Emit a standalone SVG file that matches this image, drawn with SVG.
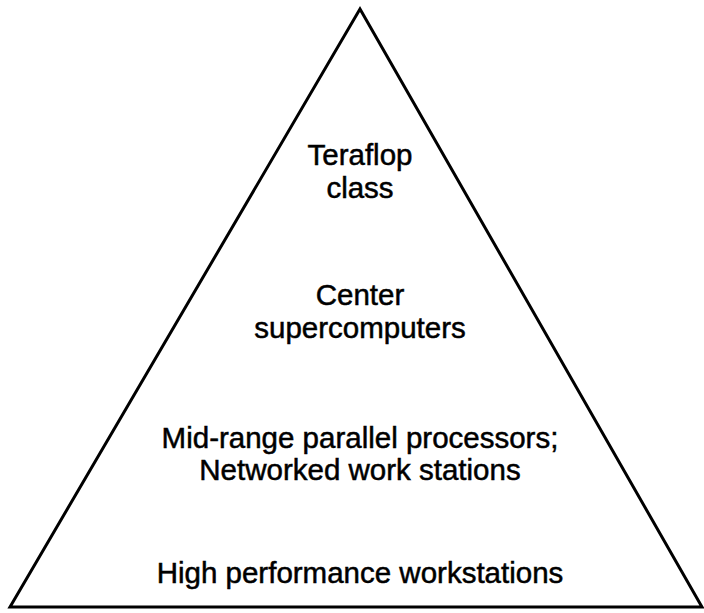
<svg xmlns="http://www.w3.org/2000/svg" width="704" height="613" viewBox="0 0 704 613">
<style>
.lbl{font-family:"Liberation Sans",Arial,sans-serif;font-size:29.5px;fill:#000;stroke:#000;stroke-width:0.5;text-anchor:middle}
.edge{fill:none;stroke:#000;stroke-width:3;stroke-linejoin:miter}
</style>
<rect width="704" height="613" fill="#fff"/>
<g id="connectors">
<polygon class="edge" points="360,9 10,607 702,607"/>
</g>
<g id="tier-teraflop">
<text class="lbl" x="360" y="165">Teraflop</text>
<text class="lbl" x="360" y="198">class</text>
</g>
<g id="tier-center">
<text class="lbl" x="360" y="305">Center</text>
<text class="lbl" x="360" y="338">supercomputers</text>
</g>
<g id="tier-midrange">
<text class="lbl" x="360" y="448">Mid-range parallel processors;</text>
<text class="lbl" x="360" y="480">Networked work stations</text>
</g>
<g id="tier-workstations">
<text class="lbl" x="360" y="583">High performance workstations</text>
</g>
</svg>
